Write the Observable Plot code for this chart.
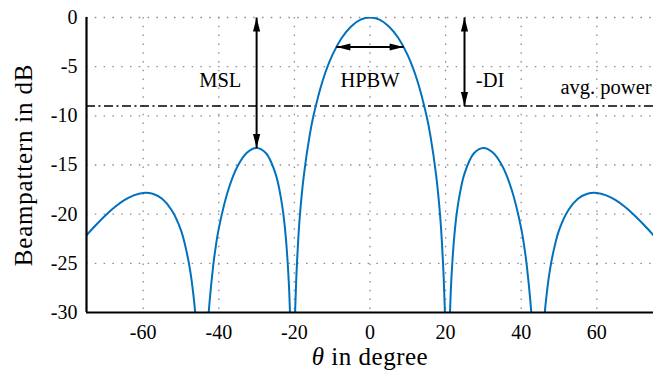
<!DOCTYPE html>
<html>
<head>
<meta charset="utf-8">
<script src="https://cdn.jsdelivr.net/npm/d3@7"></script>
<script src="https://cdn.jsdelivr.net/npm/@observablehq/plot@0.6"></script>
<style>
  html, body { margin: 0; padding: 0; background: white; }
  svg text, svg { font-family: "Liberation Serif", "Times New Roman", serif !important; }
</style>
</head>
<body>
<div id="chart"></div>
<script>
// ---- Data (theta in degrees, beampattern in dB) ----
const lobeMainTheta = [-20, -19.8, -19.5, -19, -18.5, -17.5, -16, -15, -12.5, -10, -7.5, -5, -2.5, 0, 2.5, 5, 7.5, 10, 12.5, 15, 16, 17.5, 18.5, 19, 19.5, 19.8, 20];
const lobeMainDb    = [-33.05, -29.85, -26.51, -22.69, -19.91, -16.06, -12.07, -10.07, -6.40, -3.86, -2.09, -0.91, -0.22, 0, -0.22, -0.91, -2.09, -3.86, -6.40, -10.07, -12.07, -16.06, -19.91, -22.69, -26.51, -29.85, -33.05];

const lobe1RightTheta = [21, 21.5, 22.5, 23.5, 25, 27.5, 30, 32.5, 35, 37.5, 40, 41, 41.5, 42.5, 43];
const lobe1RightDb    = [-32.28, -26.79, -21.41, -18.49, -15.87, -13.81, -13.27, -13.73, -15.10, -17.54, -21.45, -23.81, -25.32, -29.18, -31.96];
const lobe1LeftTheta  = [-43, -42.5, -41.5, -41, -40, -37.5, -35, -32.5, -30, -27.5, -25, -23.5, -22.5, -21.5, -21];
const lobe1LeftDb     = [-31.96, -29.18, -25.32, -23.81, -21.45, -17.54, -15.10, -13.73, -13.27, -13.81, -15.87, -18.49, -21.41, -26.79, -32.28];

const lobe2RightTheta = [45.5, 46, 46.5, 47.5, 48.5, 50, 52.5, 55, 57.5, 60, 62.5, 65, 67.5, 70, 72.5, 75];
const lobe2RightDb    = [-34.17, -31.17, -28.98, -25.92, -23.85, -21.65, -19.58, -18.44, -17.93, -17.84, -18.09, -18.58, -19.28, -20.13, -21.10, -22.14];
const lobe2LeftTheta  = [-75, -72.5, -70, -67.5, -65, -62.5, -60, -57.5, -55, -52.5, -50, -48.5, -47.5, -46.5, -46, -45.5];
const lobe2LeftDb     = [-22.14, -21.10, -20.13, -19.28, -18.58, -18.09, -17.84, -17.93, -18.44, -19.58, -21.65, -23.85, -25.92, -28.98, -31.17, -34.17];

const avgPowerDb = -9;
const xTicks = [-60, -40, -20, 0, 20, 40, 60];
const yTicks = [0, -5, -10, -15, -20, -25, -30];
const yGrid  = [0, -5, -10, -15, -20, -25];

// annotation arrows (double-headed)
const arrowX1 = [-30, 25, -8.9];
const arrowY1 = [0, 0, -3];
const arrowX2 = [-30, 25, 8.9];
const arrowY2 = [-13.26, -9, -3];

// annotation labels
const labelText   = ["MSL", "HPBW", "-DI", "avg. power"];
const labelTheta  = [-39.6, 0, 28, 74.5];
const labelDb     = [-7.05, -7.05, -7.05, -7.75];
const labelAnchor = ["middle", "middle", "start", "end"];

// ---- Build tables ----
const lobes = [
  ["L2", lobe2LeftTheta, lobe2LeftDb],
  ["L1", lobe1LeftTheta, lobe1LeftDb],
  ["M", lobeMainTheta, lobeMainDb],
  ["R1", lobe1RightTheta, lobe1RightDb],
  ["R2", lobe2RightTheta, lobe2RightDb]
];
const curve = lobes.flatMap(([id, th, db]) => th.map((t, i) => ({lobe: id, theta: t, db: db[i]})));
const arrows = arrowX1.map((x1, i) => ({x1, y1: arrowY1[i], x2: arrowX2[i], y2: arrowY2[i]}));
const labels = labelText.map((t, i) => ({text: t, x: labelTheta[i], y: labelDb[i], anchor: labelAnchor[i]}));

// arrow heads: tip at the data point
const headSymbol = (dx, dy) => ({
  draw(ctx) {
    const L = 14, W = 3.6;
    const bx = -dx * L, by = -dy * L;
    const px = -dy * W, py = dx * W;
    ctx.moveTo(0, 0);
    ctx.lineTo(bx + px, by + py);
    ctx.lineTo(bx - px, by - py);
    ctx.closePath();
  }
});
const headsUp = [], headsDown = [], headsLeft = [], headsRight = [];
arrows.forEach(a => {
  if (a.x1 === a.x2) {
    const top = a.y1 > a.y2 ? a : {x1: a.x2, y1: a.y2, x2: a.x1, y2: a.y1};
    headsUp.push({x: top.x1, y: top.y1});
    headsDown.push({x: top.x2, y: top.y2});
  } else {
    headsLeft.push({x: Math.min(a.x1, a.x2), y: a.y1});
    headsRight.push({x: Math.max(a.x1, a.x2), y: a.y1});
  }
});

const serif = "Liberation Serif";

const chart = Plot.plot({
  width: 653,
  height: 378,
  marginLeft: 86,
  marginRight: 0,
  marginTop: 17,
  marginBottom: 66,
  style: {fontFamily: serif, fontSize: "20px", background: "white", color: "black"},
  x: {domain: [-75, 75], label: null},
  y: {domain: [-30, 0], label: null},
  marks: [
    Plot.gridX(xTicks, {stroke: "#8c8c8c", strokeOpacity: 1, strokeWidth: 1.3, strokeDasharray: "1.5,7.3"}),
    Plot.gridY(yGrid, {stroke: "#8c8c8c", strokeOpacity: 1, strokeWidth: 1.3, strokeDasharray: "1.5,7.3"}),
    Plot.ruleY([avgPowerDb], {stroke: "black", strokeWidth: 1.6, strokeDasharray: "9,3.5,2,3.5"}),
    Plot.line(curve, {x: "theta", y: "db", z: "lobe", stroke: "#0072BD", strokeWidth: 2, curve: "catmull-rom", clip: true}),
    Plot.ruleX([-75], {stroke: "black", strokeWidth: 2.2}),
    Plot.ruleY([-30], {stroke: "black", strokeWidth: 2.2}),
    Plot.link(arrows, {x1: "x1", y1: "y1", x2: "x2", y2: "y2", stroke: "black", strokeWidth: 2}),
    Plot.dot(headsUp, {x: "x", y: "y", symbol: headSymbol(0, -1), fill: "black", stroke: "none"}),
    Plot.dot(headsDown, {x: "x", y: "y", symbol: headSymbol(0, 1), fill: "black", stroke: "none"}),
    Plot.dot(headsLeft, {x: "x", y: "y", symbol: headSymbol(-1, 0), fill: "black", stroke: "none"}),
    Plot.dot(headsRight, {x: "x", y: "y", symbol: headSymbol(1, 0), fill: "black", stroke: "none"}),
    ...["middle", "start", "end"].map(anc =>
      Plot.text(labels.filter(d => d.anchor === anc), {x: "x", y: "y", text: "text", textAnchor: anc, lineAnchor: "bottom", fontSize: 20.5, fontFamily: serif, fill: "black"})
    ),
    Plot.axisX(xTicks, {tickSize: 0, tickPadding: 12, tickFormat: d => String(d), fontSize: 20, fontFamily: serif, label: null}),
    Plot.axisY(yTicks, {tickSize: 0, tickPadding: 9, tickFormat: d => String(d), fontSize: 20, fontFamily: serif, label: null}),
    Plot.text(["θ in degree"], {frameAnchor: "bottom", dy: 52, text: d => d, textAnchor: "middle", lineAnchor: "bottom", fontSize: 25, fontFamily: serif, fill: "black"}),
    Plot.text(["Beampattern in dB"], {frameAnchor: "left", dx: -63, text: d => d, rotate: -90, textAnchor: "middle", lineAnchor: "middle", fontSize: 25, fontFamily: serif, fill: "black"})
  ]
});
document.getElementById("chart").appendChild(chart);

// italic theta in the x-axis title, slight letter spacing on axis titles
d3.select(chart).selectAll("text").each(function () {
  const t = d3.select(this);
  const s = t.text();
  if (s === "θ in degree") {
    t.text(null);
    t.append("tspan").attr("font-style", "italic").text("θ");
    t.append("tspan").text(" in degree");
    t.style("letter-spacing", "0.5px");
  } else if (s === "Beampattern in dB") {
    t.style("letter-spacing", "0.8px");
  }
});
</script>
</body>
</html>
